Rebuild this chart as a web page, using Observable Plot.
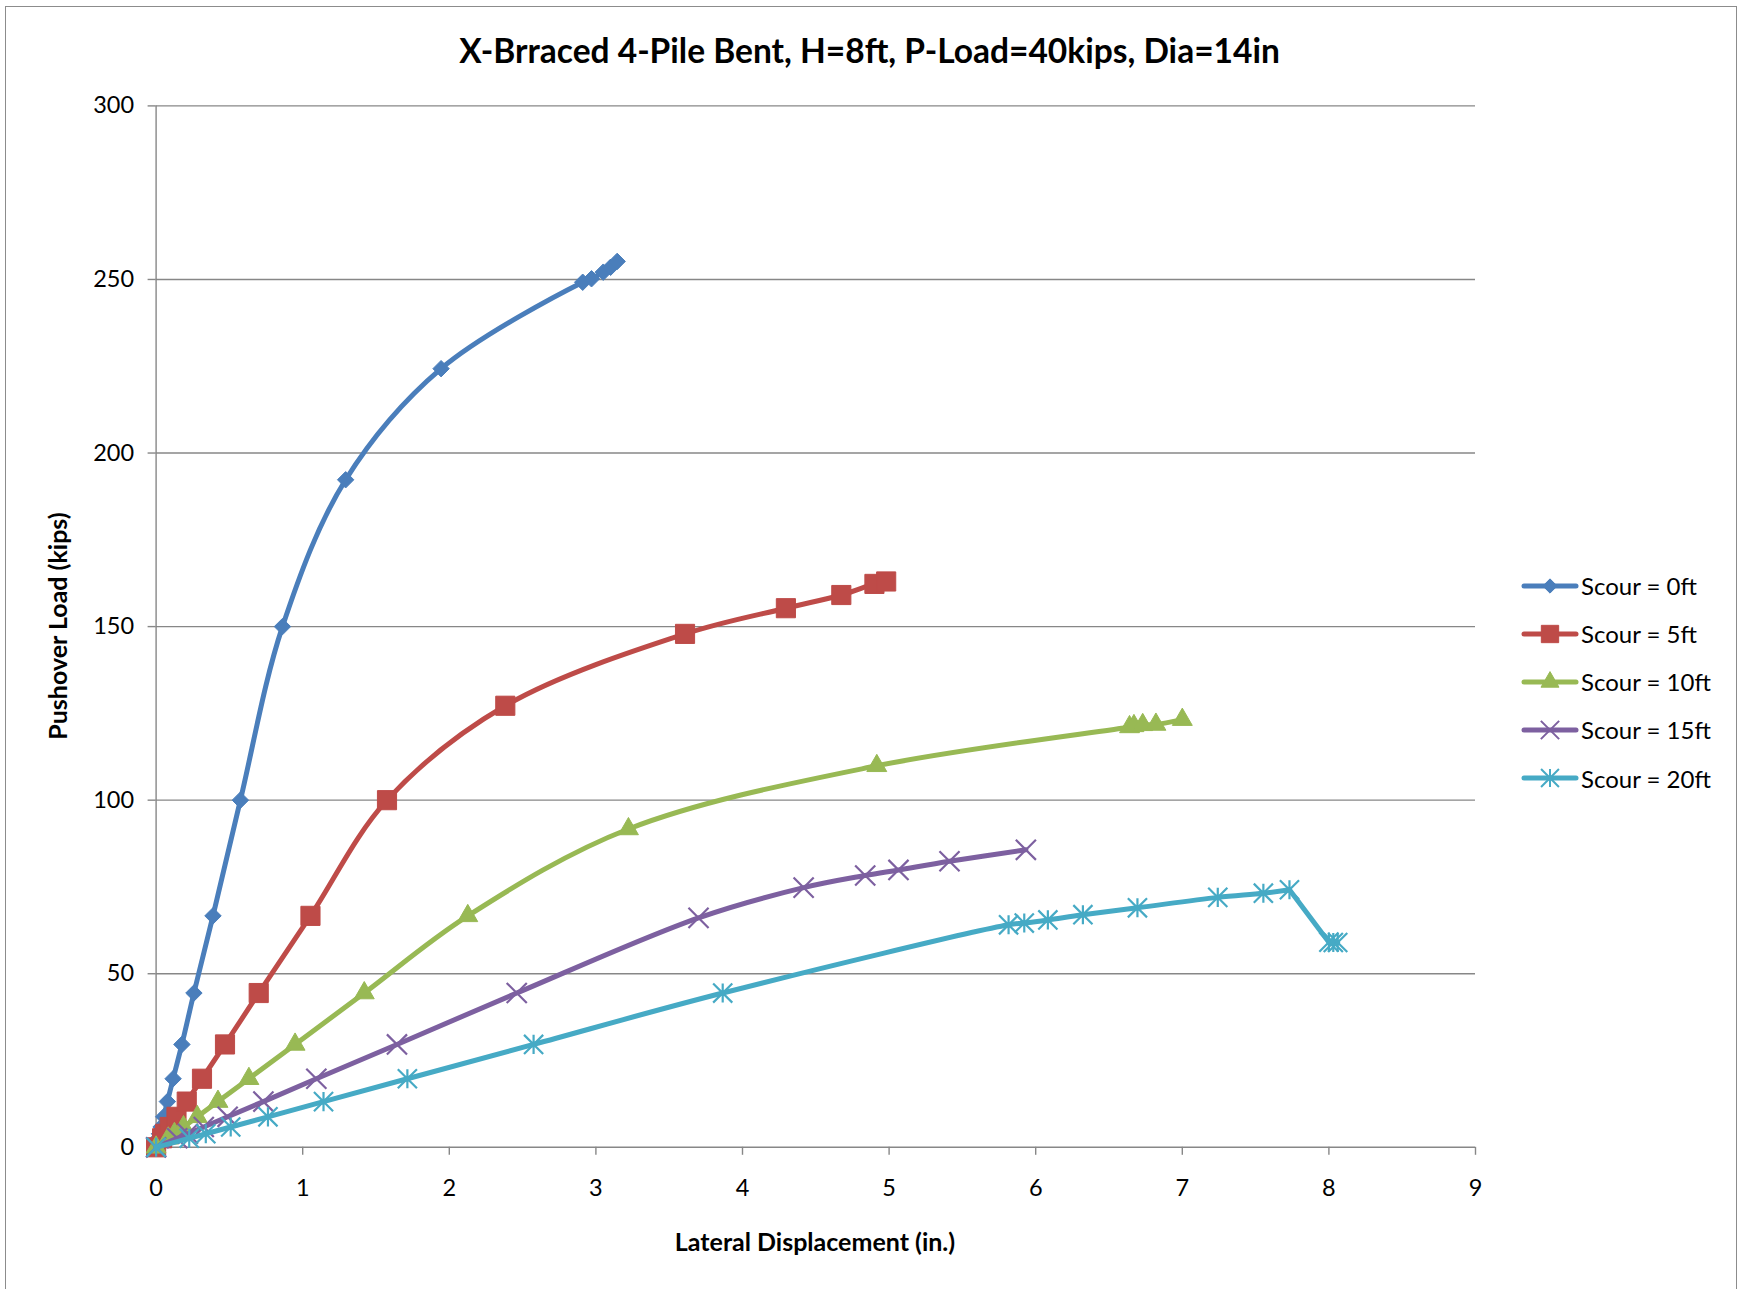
<!DOCTYPE html>
<html>
<head>
<meta charset="utf-8">
<script src="https://cdn.jsdelivr.net/npm/d3@7"></script>
<script src="https://cdn.jsdelivr.net/npm/@observablehq/plot@0.6"></script>
<style>
  body { margin: 0; background: #fff; font-family: Lato, "Open Sans", sans-serif; }
  #wrap { position: relative; width: 1739px; height: 1289px; overflow: hidden; background: #fff; }
  #frame { position: absolute; left: 5px; top: 6px; width: 1732px; height: 1320px; border: 1.5px solid #8c8c8c; box-sizing: border-box; pointer-events: none; }
  #chart { position: absolute; left: 0; top: 0; }
  #title { position: absolute; left: 0; width: 1739px; top: 50px; transform: translateY(-50%); text-align: center; font-weight: 700; font-size: 33.5px; color: #000; line-height: 40px; }
  #ylabel { position: absolute; left: 57px; top: 626px; transform: translate(-50%, -50%) rotate(-90deg); font-weight: 700; font-size: 25px; white-space: nowrap; color: #000; }
  #xlabel { position: absolute; left: 815px; top: 1241px; transform: translate(-50%, -50%); font-weight: 700; font-size: 25px; white-space: nowrap; color: #000; }
  .leg { position: absolute; left: 1521px; height: 30px; display: flex; align-items: center; font-size: 24px; color: #000; white-space: nowrap; }
  .leg svg { display: block; margin-right: 2px; }
</style>
</head>
<body>
<div id="wrap">
  <div id="chart"></div>
  <div id="title">X-Brraced 4-Pile Bent, H=8ft, P-Load=40kips, Dia=14in</div>
  <div id="ylabel">Pushover Load (kips)</div>
  <div id="xlabel">Lateral Displacement (in.)</div>
  <div id="legend"></div>
  <div id="frame"></div>
</div>
<script>
// ---------- data ----------
const seriesNames = ["Scour = 0ft", "Scour = 5ft", "Scour = 10ft", "Scour = 15ft", "Scour = 20ft"];
const seriesColors = ["#4A7EBB", "#BE4B48", "#98B954", "#7D60A0", "#46AAC5"];
const xTicks = [0, 1, 2, 3, 4, 5, 6, 7, 8, 9];
const yTicks = [0, 50, 100, 150, 200, 250, 300];

const scour0Disp = [0, 0.015, 0.023, 0.034, 0.052, 0.077, 0.116, 0.176, 0.258, 0.388, 0.575, 0.862, 1.293, 1.944, 2.91, 2.97, 3.05, 3.10, 3.145];
const scour0Load = [0, 2.6, 3.9, 5.85, 8.78, 13.17, 19.75, 29.63, 44.44, 66.67, 100, 150, 192.3, 224.3, 249.2, 250.2, 252.1, 253.5, 255.2];

const scour5Disp = [0, 0.041, 0.062, 0.093, 0.139, 0.209, 0.313, 0.47, 0.70, 1.053, 1.575, 2.382, 3.608, 4.296, 4.674, 4.90, 4.98];
const scour5Load = [0, 2.6, 3.9, 5.85, 8.78, 13.17, 19.75, 29.63, 44.44, 66.67, 100, 127.2, 147.9, 155.3, 159.1, 162.3, 163.0];

const scour10Disp = [0, 0.083, 0.125, 0.187, 0.281, 0.422, 0.633, 0.948, 1.42, 2.126, 3.222, 4.916, 6.64, 6.67, 6.73, 6.82, 7.0];
const scour10Load = [0, 2.6, 3.9, 5.85, 8.78, 13.17, 19.75, 29.63, 44.44, 66.67, 91.7, 109.9, 121.1, 121.4, 121.7, 121.8, 123.2];

const scour15Disp = [0, 0.144, 0.217, 0.325, 0.488, 0.732, 1.093, 1.643, 2.46, 3.70, 4.417, 4.837, 5.064, 5.412, 5.933];
const scour15Load = [0, 2.6, 3.9, 5.85, 8.78, 13.17, 19.75, 29.63, 44.44, 66.1, 74.8, 78.3, 79.9, 82.4, 85.7];

const scour20Disp = [0, 0.226, 0.339, 0.509, 0.763, 1.142, 1.714, 2.575, 3.865, 5.815, 5.922, 6.083, 6.322, 6.694, 7.242, 7.553, 7.731, 8.0, 8.03, 8.06];
const scour20Load = [0, 2.6, 3.9, 5.85, 8.78, 13.17, 19.75, 29.63, 44.44, 64.1, 64.6, 65.5, 67.0, 69.0, 72.0, 73.2, 74.2, 59.1, 59.0, 59.0];

// ---------- build table ----------
const dispArrays = [scour0Disp, scour5Disp, scour10Disp, scour15Disp, scour20Disp];
const loadArrays = [scour0Load, scour5Load, scour10Load, scour15Load, scour20Load];
const rows = [];
seriesNames.forEach((name, i) => {
  dispArrays[i].forEach((d, j) => rows.push({series: name, idx: j, disp: d, load: loadArrays[i][j]}));
});

// Excel-like "star" marker: vertical bar plus an X
const excelStar = {
  draw(context, size) {
    const r = Math.sqrt(size) * 0.5;
    context.moveTo(0, -r); context.lineTo(0, r);
    context.moveTo(-r, -r); context.lineTo(r, r);
    context.moveTo(-r, r); context.lineTo(r, -r);
  }
};

const markerSpec = [
  {symbol: "diamond2", r: 7.4, filled: true},
  {symbol: "square", r: 10.8, filled: true},
  {symbol: "triangle", r: 7.4, filled: true},
  {symbol: "times", r: 9.2, filled: false},
  {symbol: excelStar, r: 10.8, filled: false}
];

const lineOpts = {x: "disp", y: "load", stroke: "series", strokeWidth: 5, strokeLinejoin: "round", strokeLinecap: "round"};

const seriesMarks = [];
seriesNames.forEach((name, i) => {
  const data = rows.filter(d => d.series === name);
  // index of the peak load: the curve is smooth up to it and straight after a drop
  const peak = d3.maxIndex(data, d => d.load);
  if (peak < data.length - 1 && data[data.length - 1].load < data[peak].load - 5) {
    seriesMarks.push(Plot.line(data.slice(0, peak + 1), {...lineOpts, curve: "catmull-rom"}));
    seriesMarks.push(Plot.line(data.slice(peak), {...lineOpts, curve: "linear"}));
  } else {
    seriesMarks.push(Plot.line(data, {...lineOpts, curve: "catmull-rom"}));
  }
  const m = markerSpec[i];
  seriesMarks.push(Plot.dot(data, m.filled
    ? {x: "disp", y: "load", symbol: m.symbol, r: m.r, fill: "series", stroke: "series", strokeWidth: 1}
    : {x: "disp", y: "load", symbol: m.symbol, r: m.r, fill: "none", stroke: "series", strokeWidth: 2.2}));
});

const chart = Plot.plot({
  width: 1739,
  height: 1289,
  marginLeft: 155.6,
  marginRight: 264,
  marginTop: 105.4,
  marginBottom: 142.2,
  style: {background: "transparent", color: "#000", fontFamily: "Lato, 'Open Sans', sans-serif"},
  x: {domain: [0, 9]},
  y: {domain: [0, 300]},
  color: {domain: seriesNames, range: seriesColors},
  marks: [
    Plot.gridY(yTicks.filter(d => d > 0), {stroke: "#878787", strokeOpacity: 1, strokeWidth: 1.4}),
    Plot.ruleY([0], {stroke: "#878787", strokeWidth: 1.4}),
    Plot.ruleX([0], {stroke: "#878787", strokeWidth: 1.4}),
    Plot.axisY(yTicks, {label: null, tickSize: 8, tickPadding: 14, fontSize: 23.5, tickFormat: d => String(d), stroke: "#878787", strokeWidth: 1.4}),
    Plot.axisX(xTicks, {label: null, tickSize: 8, tickPadding: 24, fontSize: 23.5, tickFormat: d => String(d), stroke: "#878787", strokeWidth: 1.4}),
    ...seriesMarks
  ]
});
document.getElementById("chart").appendChild(chart);

// ---------- legend ----------
const legend = document.getElementById("legend");
const legendY = [585.6, 633.6, 681.8, 729.8, 778.4];
const legendSymbols = [d3.symbolDiamond2, d3.symbolSquare, d3.symbolTriangle, d3.symbolTimes, excelStar];
const legendSizes = [130, 300, 140, 220, 320];
seriesNames.forEach((name, i) => {
  const row = document.createElement("div");
  row.className = "leg";
  row.style.top = (legendY[i] - 15) + "px";
  const svg = d3.create("svg").attr("width", 58).attr("height", 30);
  svg.append("line").attr("x1", 3).attr("x2", 55).attr("y1", 15).attr("y2", 15)
    .attr("stroke", seriesColors[i]).attr("stroke-width", 5).attr("stroke-linecap", "round");
  const filled = markerSpec[i].filled;
  svg.append("path").attr("transform", "translate(29,15)")
    .attr("d", d3.symbol(legendSymbols[i], legendSizes[i])())
    .attr("fill", filled ? seriesColors[i] : "none")
    .attr("stroke", seriesColors[i]).attr("stroke-width", filled ? 1 : 2);
  row.appendChild(svg.node());
  const t = document.createElement("span");
  t.textContent = name;
  row.appendChild(t);
  legend.appendChild(row);
});
</script>
</body>
</html>
